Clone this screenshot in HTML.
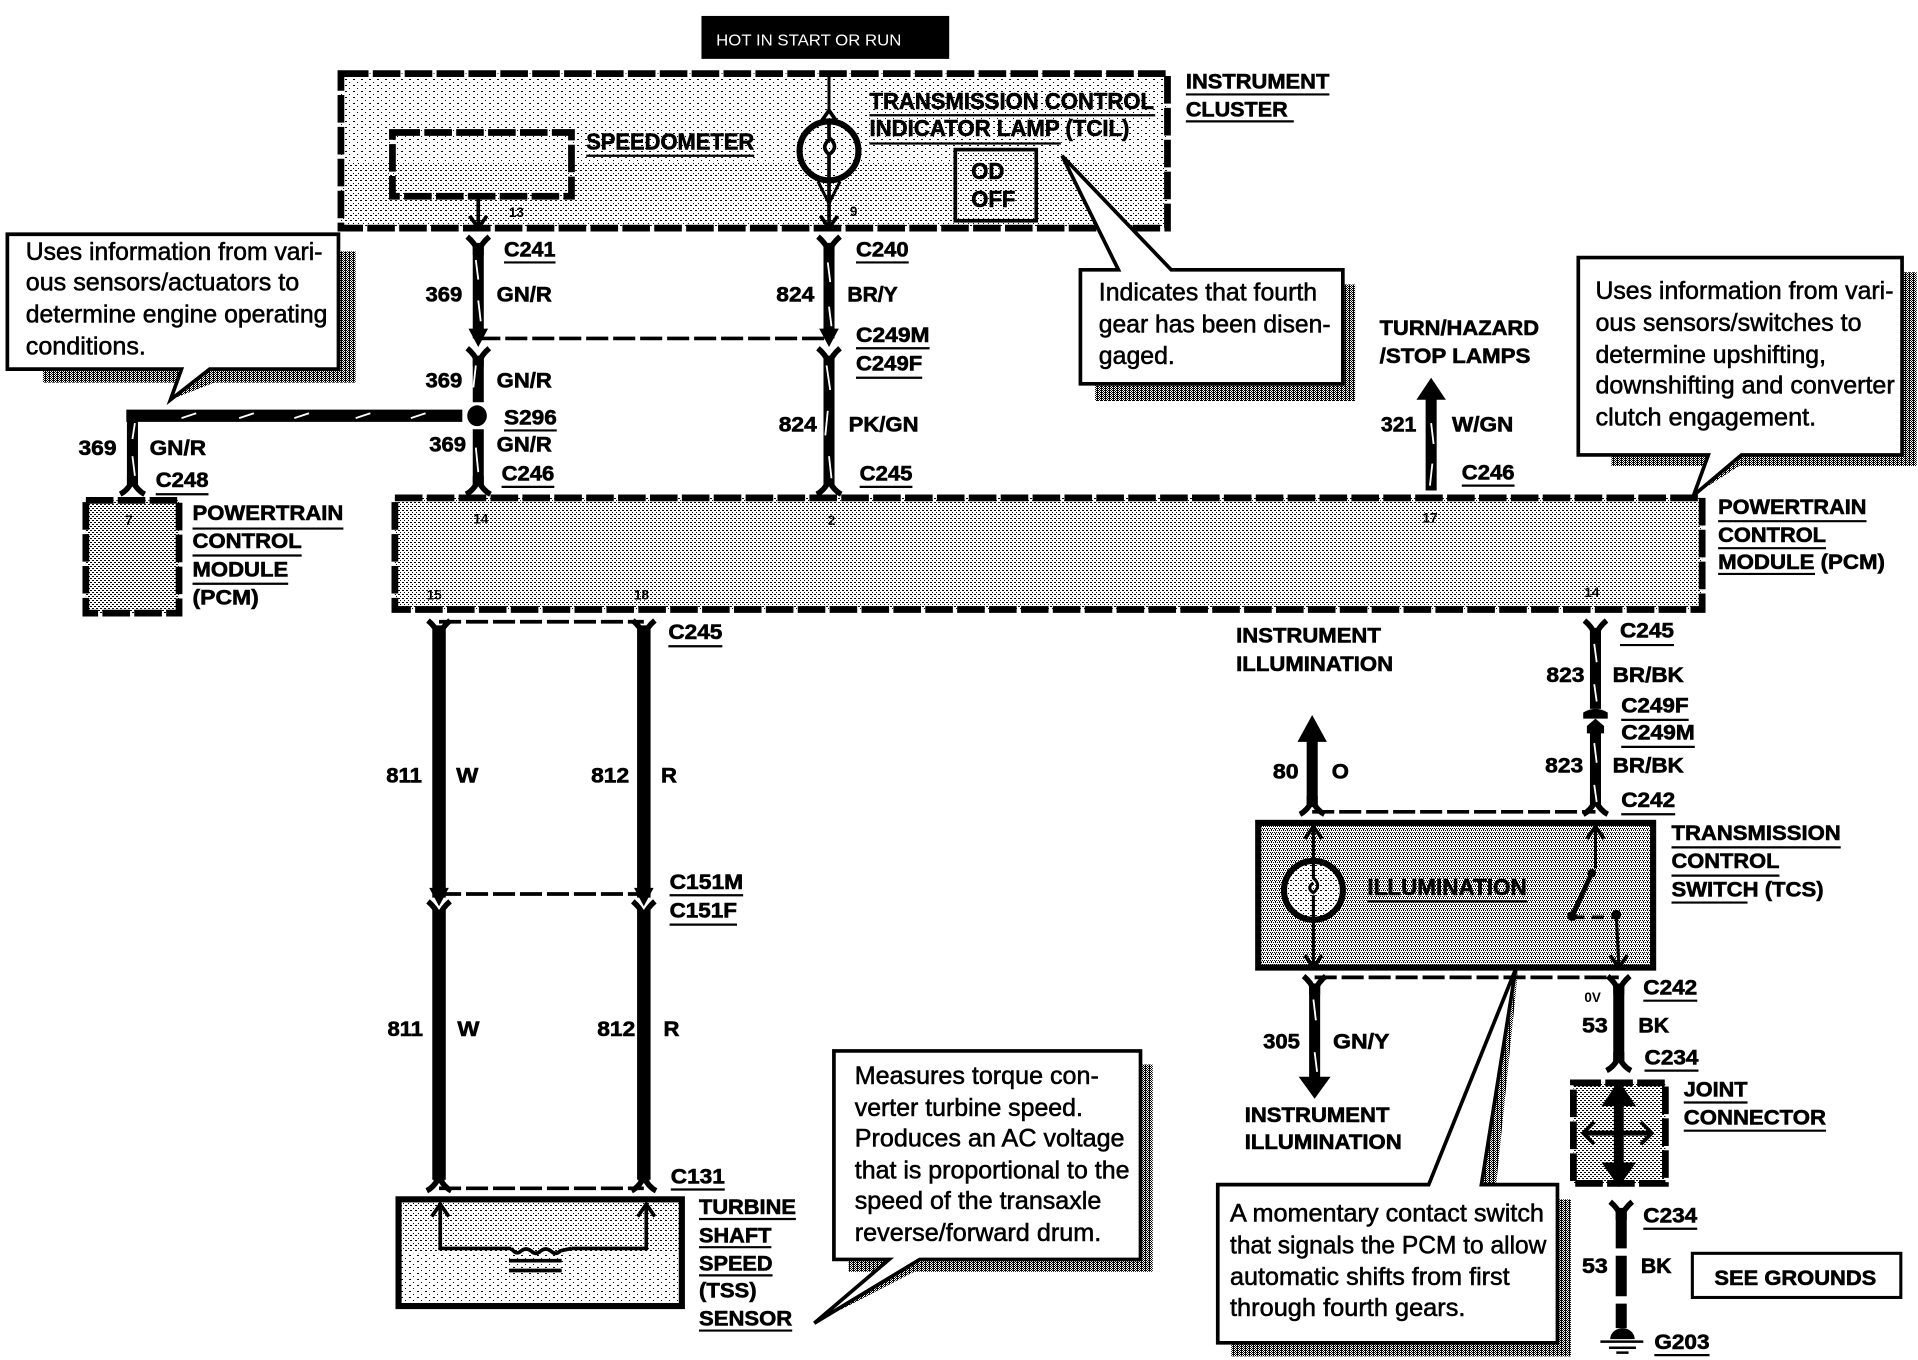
<!DOCTYPE html>
<html><head><meta charset="utf-8"><title>Wiring diagram</title>
<style>
html,body{margin:0;padding:0;background:#fff}
svg{display:block}
text{font-family:"Liberation Sans",sans-serif;fill:#000}
.b{font-weight:bold;font-size:17.5px;stroke:#000;stroke-width:.5px}
.l{font-weight:bold;font-size:19px;stroke:#000;stroke-width:.5px}
.n{font-size:20px;stroke:#000;stroke-width:.45px}
.s{font-weight:bold;font-size:11px}
.u{stroke:#000;stroke-width:1.8;fill:none}
.w{stroke:#000;stroke-width:9;fill:none}
.t{stroke:#fff;stroke-width:1.5;fill:none}
.th{stroke:#000;stroke-width:3;fill:none}
.d{stroke:#000;stroke-width:3;fill:none;stroke-dasharray:18 4}
.box{stroke:#000;stroke-width:5.5;stroke-dasharray:22.5 3.5;fill:none}
.sw{fill:url(#pS)}
.c{fill:#fff;stroke:#000;stroke-width:3}
</style></head><body>
<svg xmlns="http://www.w3.org/2000/svg" width="1918" height="1360" viewBox="0 0 1564 1109" preserveAspectRatio="none">
<defs>
<pattern id="pL" width="8" height="6" patternUnits="userSpaceOnUse" patternTransform="scale(.81543)"><rect width="8" height="6" fill="#fff"/><path shape-rendering="crispEdges" d="M1,1h2v1h-2zM5,4h1v1h-1z"/></pattern>
<pattern id="pM" width="5" height="5" patternUnits="userSpaceOnUse" patternTransform="scale(.81543)"><rect width="5" height="5" fill="#fff"/><path shape-rendering="crispEdges" d="M0,0h2v1h-2zM3,3h1v1h-1z"/></pattern>
<pattern id="pP" width="4" height="4" patternUnits="userSpaceOnUse" patternTransform="scale(.81543)"><rect width="4" height="4" fill="#fff"/><path shape-rendering="crispEdges" d="M0,0h1v1h-1zM2,2h2v1h-2z"/></pattern>
<pattern id="pQ" width="4" height="4" patternUnits="userSpaceOnUse" patternTransform="scale(.81543)"><rect width="4" height="4" fill="#fff"/><path shape-rendering="crispEdges" d="M0,0h2v1h-2zM2,2h2v1h-2z"/></pattern>
<pattern id="pD" width="4" height="4" patternUnits="userSpaceOnUse" patternTransform="scale(.81543)"><rect width="4" height="4" fill="#fff"/><path shape-rendering="crispEdges" d="M0,0h1v1h-1zM2,0h1v1h-1zM1,2h1v1h-1zM3,2h1v1h-1zM3,1h1v1h-1z"/></pattern>
<pattern id="pS" width="4" height="4" patternUnits="userSpaceOnUse" patternTransform="scale(.81543)"><rect width="4" height="4" fill="#fff"/><path shape-rendering="crispEdges" d="M0,0h3v1h-3zM1,1h1v1h-1zM3,1h1v1h-1zM0,2h3v1h-3zM1,3h1v1h-1zM3,3h1v1h-1z"/></pattern>
<g id="y"><path d="M-9,-8 Q-3,-3 0,4 Q3,-3 9,-8" fill="none" stroke="#000" stroke-width="4.5"/><rect x="-4.5" y="-1" width="9" height="8" fill="#000"/></g>
<g id="yi"><path d="M-10,9 Q-4,6 0,-2 Q4,6 10,9" fill="none" stroke="#000" stroke-width="4.5"/><rect x="-4.5" y="-6" width="9" height="8" fill="#000"/></g>
<g id="ar"><path d="M-8,-9 L0,6 L8,-9 Z" fill="#000"/></g>
<g id="au"><path d="M-7,7 L0,-3 L7,7" fill="none" stroke="#000" stroke-width="3"/></g>
<g id="ad"><path d="M-7,-7 L0,3 L7,-7" fill="none" stroke="#000" stroke-width="3"/></g>
</defs>
<rect width="1564" height="1109" fill="#fff"/>

<!-- hot bar -->
<rect x="572" y="13" width="202" height="35" fill="#000"/>
<text x="584" y="37" font-size="13" style="fill:#fff" textLength="151" lengthAdjust="spacingAndGlyphs">HOT IN START OR RUN</text>

<!-- instrument cluster -->
<rect x="278" y="60" width="674" height="72" fill="url(#pL)"/>
<rect x="278" y="132" width="674" height="54" fill="url(#pM)"/>
<rect x="278" y="60" width="674" height="126" class="box"/>
<rect x="320" y="108" width="146" height="52" class="box"/>
<path class="th" d="M390,160V187"/><use href="#ad" x="390" y="183"/>
<path d="M676,60V92" stroke="#000" stroke-width="2.5"/><use href="#au" x="676" y="93"/>
<circle cx="676" cy="123" r="24" fill="url(#pL)" stroke="#000" stroke-width="5"/>
<path d="M676,100V112 Q685,120 676,126 Q669,120 676,114 M676,126V147" stroke="#000" stroke-width="3" fill="none"/>
<path d="M676,147V187" stroke="#000" stroke-width="3"/><use href="#ad" x="676" y="183"/>
<path d="M667,148L676,166L685,148" fill="none" stroke="#000" stroke-width="2.5"/>
<rect x="779" y="122" width="66" height="58" fill="url(#pM)" stroke="#000" stroke-width="3"/>
<text class="l" x="792" y="146" textLength="27" lengthAdjust="spacingAndGlyphs">OD</text>
<text class="l" x="792" y="169" textLength="36" lengthAdjust="spacingAndGlyphs">OFF</text>

<!-- callout shadows -->
<path class="sw" d="M277,205H290V312H35V298H277Z"/>
<path class="sw" d="M1095,232H1105V327H893V313H1095Z"/>
<path class="sw" d="M1550,222H1563V380H1314V371H1550Z"/>
<path class="sw" d="M930,868H940V1037H692V1027H930Z"/>
<path class="sw" d="M1270,978H1281V1106H1004V1095H1270Z"/>
<path class="sw" d="M171,302L139,326L200,302Z"/>
<path class="sw" d="M866,127L955,220H935Z"/>
<path class="sw" d="M1238,790L1220,966H1208Z"/>
<path class="sw" d="M664,1079L750,1027H765Z"/>
<path class="sw" d="M1381,404L1420,371H1432Z"/>

<!-- callouts -->
<path class="c" d="M6,191H276V301H171L139,326L148,301H6Z"/>
<path class="c" d="M881,220H912L866,127L955,220H1095V313H881Z"/>
<path class="c" d="M1287,210H1551V371H1420L1381,404L1393,371H1287Z"/>
<path class="c" d="M680,857H930V1027H750L664,1079L725,1027H680Z"/>
<path class="c" d="M993,966H1165L1236,790L1208,966H1270V1095H993Z"/>

<text class="n" x="21" y="212" textLength="242" lengthAdjust="spacingAndGlyphs">Uses information from vari-</text>
<text class="n" x="21" y="237" textLength="223" lengthAdjust="spacingAndGlyphs">ous sensors/actuators to</text>
<text class="n" x="21" y="263" textLength="246" lengthAdjust="spacingAndGlyphs">determine engine operating</text>
<text class="n" x="21" y="289" textLength="98" lengthAdjust="spacingAndGlyphs">conditions.</text>
<text class="n" x="896" y="245" textLength="178" lengthAdjust="spacingAndGlyphs">Indicates that fourth</text>
<text class="n" x="896" y="271" textLength="189" lengthAdjust="spacingAndGlyphs">gear has been disen-</text>
<text class="n" x="896" y="297" textLength="62" lengthAdjust="spacingAndGlyphs">gaged.</text>
<text class="n" x="1301" y="244" textLength="243" lengthAdjust="spacingAndGlyphs">Uses information from vari-</text>
<text class="n" x="1301" y="270" textLength="217" lengthAdjust="spacingAndGlyphs">ous sensors/switches to</text>
<text class="n" x="1301" y="296" textLength="188" lengthAdjust="spacingAndGlyphs">determine upshifting,</text>
<text class="n" x="1301" y="321" textLength="244" lengthAdjust="spacingAndGlyphs">downshifting and converter</text>
<text class="n" x="1301" y="347" textLength="180" lengthAdjust="spacingAndGlyphs">clutch engagement.</text>
<text class="n" x="697" y="884" textLength="199" lengthAdjust="spacingAndGlyphs">Measures torque con-</text>
<text class="n" x="697" y="910" textLength="186" lengthAdjust="spacingAndGlyphs">verter turbine speed.</text>
<text class="n" x="697" y="935" textLength="220" lengthAdjust="spacingAndGlyphs">Produces an AC voltage</text>
<text class="n" x="697" y="961" textLength="224" lengthAdjust="spacingAndGlyphs">that is proportional to the</text>
<text class="n" x="697" y="986" textLength="201" lengthAdjust="spacingAndGlyphs">speed of the transaxle</text>
<text class="n" x="697" y="1012" textLength="201" lengthAdjust="spacingAndGlyphs">reverse/forward drum.</text>
<text class="n" x="1003" y="996" textLength="256" lengthAdjust="spacingAndGlyphs">A momentary contact switch</text>
<text class="n" x="1003" y="1022" textLength="258" lengthAdjust="spacingAndGlyphs">that signals the PCM to allow</text>
<text class="n" x="1003" y="1048" textLength="228" lengthAdjust="spacingAndGlyphs">automatic shifts from first</text>
<text class="n" x="1003" y="1073" textLength="192" lengthAdjust="spacingAndGlyphs">through fourth gears.</text>

<!-- PCM modules -->
<rect x="322" y="406" width="1066" height="91" fill="url(#pP)"/>
<rect x="322" y="406" width="1066" height="91" class="box"/>
<rect x="70" y="408" width="76" height="92" fill="url(#pQ)"/>
<rect x="70" y="408" width="76" height="92" class="box"/>

<!-- upper wires -->
<path class="w" d="M390,198V276M390,290V328M390,350V396M676,198V276M676,290V396"/>
<path class="d" d="M390,276H676"/>
<use href="#y" x="390" y="201"/><use href="#y" x="676" y="201"/>
<use href="#ar" x="390" y="277"/><use href="#ar" x="676" y="277"/>
<use href="#y" x="390" y="292"/><use href="#y" x="676" y="292"/>
<use href="#yi" x="390" y="394"/><use href="#yi" x="676" y="394"/>
<ellipse cx="389" cy="339" rx="8" ry="8.5" fill="#000"/>
<path d="M103,339H377" stroke="#000" stroke-width="10" fill="none"/>
<path class="w" d="M108,335V396"/><use href="#yi" x="108" y="394"/>
<path class="t" d="M148,341L160,337M195,341L207,337M240,341L252,337M290,341L302,337M335,341L347,337M110,345L108,358M108,372L110,388"/>
<path class="t" d="M388,212L390,228M390,245L392,262M388,298L386,316M388,365L390,385M675,214L677,230M676,250L678,266M674,298L677,318M675,335L673,355M676,372L678,390"/>

<!-- turn/hazard arrow -->
<path class="w" d="M1167,322V400"/><path d="M1155,326L1167,308L1179,326Z" fill="#000"/>
<path class="t" d="M1167,345L1169,362M1168,378L1166,396"/>

<!-- wires 811 812 -->
<path d="M358,510V732M358,742V962M525,510V732M525,742V962" stroke="#000" stroke-width="11" fill="none"/>
<use href="#y" x="358" y="514"/><use href="#y" x="525" y="514"/>
<use href="#ar" x="358" y="733"/><use href="#ar" x="525" y="733"/>
<use href="#y" x="358" y="743"/><use href="#y" x="525" y="743"/>
<use href="#yi" x="358" y="962"/><use href="#yi" x="525" y="962"/>
<path class="d" d="M358,507H525M358,729H525M358,969H525"/>

<!-- TSS -->
<rect x="325" y="978" width="231" height="44" fill="url(#pM)"/>
<rect x="325" y="1022" width="231" height="43" fill="url(#pL)"/>
<rect x="325" y="978" width="231" height="87" fill="none" stroke="#000" stroke-width="5"/>
<path d="M359,981V1018H417 M466,1018H527V981" fill="none" stroke="#000" stroke-width="3"/>
<use href="#au" x="359" y="985"/><use href="#au" x="527" y="985"/>
<path d="M417,1018q4,6 8,2q4,-3 8,0q4,4 8,0q4,-3 8,0q4,4 8,0l9,-2" fill="none" stroke="#000" stroke-width="3"/>
<path d="M415,1028H458M415,1036H458" stroke="#000" stroke-width="3"/>

<!-- right upper wire -->
<path class="w" d="M1301,512V578M1301,595V655"/>
<use href="#y" x="1301" y="514"/><use href="#yi" x="1301" y="655"/>
<path d="M1291,581Q1301,575 1311,581V586H1291Z" fill="#000"/><path d="M1294,592L1301,586L1308,592V598H1294Z" fill="#000"/>
<path class="t" d="M1300,525L1302,540M1300,558L1302,572M1300,606L1302,622M1300,640L1302,654"/>
<path d="M1070,600V658" stroke="#000" stroke-width="9" fill="none"/>
<path d="M1058,605L1070,583L1082,605Z" fill="#000"/><use href="#yi" x="1070" y="655"/>
<path class="d" d="M1070,662H1301"/>

<!-- TCS -->
<rect x="1026" y="671" width="322" height="118" fill="url(#pD)" stroke="#000" stroke-width="5"/>
<path d="M1071,674V702M1071,750V787" stroke="#000" stroke-width="2.5"/>
<use href="#au" x="1071" y="677"/><use href="#ad" x="1071" y="786"/>
<circle cx="1071" cy="726" r="24" fill="url(#pM)" stroke="#000" stroke-width="5"/>
<path d="M1071,702V716Q1078,722 1071,728Q1065,724 1071,720M1071,730V750" fill="none" stroke="#000" stroke-width="2.5"/>
<path d="M1301,674V708" stroke="#000" stroke-width="2.5"/><use href="#au" x="1301" y="677"/>
<circle cx="1298" cy="712" r="3.5" fill="#000"/><circle cx="1282" cy="747" r="4" fill="#000"/><circle cx="1318" cy="746" r="4" fill="#000"/>
<path d="M1298,712L1282,747" stroke="#000" stroke-width="4"/>
<path d="M1282,748H1318" stroke="#000" stroke-width="3" stroke-dasharray="10 6"/>
<path d="M1318,746L1320,787" stroke="#000" stroke-width="2.5"/><use href="#ad" x="1320" y="786"/>

<!-- lower wires -->
<path class="d" d="M1072,797H1320"/>
<path class="w" d="M1072,802V882"/><use href="#y" x="1072" y="804"/>
<path d="M1059,878L1072,896L1085,878Z" fill="#000"/>
<path class="t" d="M1071,815L1073,832M1072,858L1074,874"/>
<path class="w" d="M1320,802V866"/><use href="#y" x="1320" y="804"/><use href="#yi" x="1320" y="864"/>

<!-- joint -->
<rect x="1283" y="883" width="75" height="82" fill="url(#pQ)"/>
<rect x="1283" y="883" width="75" height="82" class="box"/>
<path d="M1320,895V955" stroke="#000" stroke-width="8"/>
<path d="M1306,902L1320,881L1334,902Z" fill="#000"/><path d="M1306,948L1320,968L1334,948Z" fill="#000"/>
<path d="M1293,924H1345" stroke="#000" stroke-width="4"/>
<path d="M1300,915L1291,924L1300,933M1338,915L1347,924L1338,933" fill="none" stroke="#000" stroke-width="3"/>

<path class="w" d="M1322,985V1018M1322,1024V1057M1322,1063V1083"/><use href="#y" x="1322" y="988"/>
<path d="M1313,1092A10,9 0 0 1 1333,1092Z" fill="#000"/>
<path d="M1305,1094H1340M1312,1099H1334M1318,1103H1328" stroke="#000" stroke-width="2"/>
<rect x="1380" y="1022" width="170" height="36" fill="#fff" stroke="#000" stroke-width="2.5"/>

<!-- small pin numbers -->
<text class="s" x="415" y="177">13</text><text class="s" x="693" y="176">9</text>
<text class="s" x="102" y="428">7</text><text class="s" x="386" y="427">14</text>
<text class="s" x="675" y="428">2</text><text class="s" x="1160" y="426">17</text>
<text class="s" x="348" y="489">15</text><text class="s" x="517" y="489">18</text>
<text class="s" x="1292" y="487">14</text>
<text class="s" x="1292" y="817" font-size="12">0V</text>

<!-- bold labels -->
<g>
<text class="b" x="967" y="72" textLength="117" lengthAdjust="spacingAndGlyphs">INSTRUMENT</text>
<text class="b" x="967" y="95" textLength="83" lengthAdjust="spacingAndGlyphs">CLUSTER</text>
<text class="l" x="709" y="89" textLength="232" lengthAdjust="spacingAndGlyphs">TRANSMISSION CONTROL</text>
<text class="l" x="709" y="111" textLength="212" lengthAdjust="spacingAndGlyphs">INDICATOR LAMP (TCIL)</text>
<text class="l" x="478" y="122" textLength="137" lengthAdjust="spacingAndGlyphs">SPEEDOMETER</text>
<text class="b" x="411" y="209" textLength="42" lengthAdjust="spacingAndGlyphs">C241</text>
<text class="b" x="698" y="209" textLength="43" lengthAdjust="spacingAndGlyphs">C240</text>
<text class="b" x="347" y="246" textLength="30" lengthAdjust="spacingAndGlyphs">369</text>
<text class="b" x="405" y="246" textLength="45" lengthAdjust="spacingAndGlyphs">GN/R</text>
<text class="b" x="633" y="246" textLength="31" lengthAdjust="spacingAndGlyphs">824</text>
<text class="b" x="691" y="246" textLength="41" lengthAdjust="spacingAndGlyphs">BR/Y</text>
<text class="b" x="698" y="279" textLength="60" lengthAdjust="spacingAndGlyphs">C249M</text>
<text class="b" x="698" y="302" textLength="54" lengthAdjust="spacingAndGlyphs">C249F</text>
<text class="b" x="347" y="316" textLength="30" lengthAdjust="spacingAndGlyphs">369</text>
<text class="b" x="405" y="316" textLength="45" lengthAdjust="spacingAndGlyphs">GN/R</text>
<text class="b" x="635" y="352" textLength="31" lengthAdjust="spacingAndGlyphs">824</text>
<text class="b" x="692" y="352" textLength="57" lengthAdjust="spacingAndGlyphs">PK/GN</text>
<text class="b" x="411" y="346" textLength="43" lengthAdjust="spacingAndGlyphs">S296</text>
<text class="b" x="350" y="368" textLength="30" lengthAdjust="spacingAndGlyphs">369</text>
<text class="b" x="405" y="368" textLength="45" lengthAdjust="spacingAndGlyphs">GN/R</text>
<text class="b" x="409" y="392" textLength="43" lengthAdjust="spacingAndGlyphs">C246</text>
<text class="b" x="701" y="392" textLength="43" lengthAdjust="spacingAndGlyphs">C245</text>
<text class="b" x="64" y="371" textLength="31" lengthAdjust="spacingAndGlyphs">369</text>
<text class="b" x="122" y="371" textLength="46" lengthAdjust="spacingAndGlyphs">GN/R</text>
<text class="b" x="127" y="397" textLength="43" lengthAdjust="spacingAndGlyphs">C248</text>
<text class="b" x="157" y="424" textLength="123" lengthAdjust="spacingAndGlyphs">POWERTRAIN</text>
<text class="b" x="157" y="447" textLength="89" lengthAdjust="spacingAndGlyphs">CONTROL</text>
<text class="b" x="157" y="470" textLength="78" lengthAdjust="spacingAndGlyphs">MODULE</text>
<text class="b" x="157" y="493" textLength="54" lengthAdjust="spacingAndGlyphs">(PCM)</text>
<text class="b" x="1125" y="273" textLength="130" lengthAdjust="spacingAndGlyphs">TURN/HAZARD</text>
<text class="b" x="1125" y="296" textLength="123" lengthAdjust="spacingAndGlyphs">/STOP LAMPS</text>
<text class="b" x="1126" y="352" textLength="29" lengthAdjust="spacingAndGlyphs">321</text>
<text class="b" x="1184" y="352" textLength="50" lengthAdjust="spacingAndGlyphs">W/GN</text>
<text class="b" x="1192" y="391" textLength="43" lengthAdjust="spacingAndGlyphs">C246</text>
<text class="b" x="1401" y="419" textLength="121" lengthAdjust="spacingAndGlyphs">POWERTRAIN</text>
<text class="b" x="1401" y="442" textLength="88" lengthAdjust="spacingAndGlyphs">CONTROL</text>
<text class="b" x="1401" y="464" textLength="136" lengthAdjust="spacingAndGlyphs">MODULE (PCM)</text>
<text class="b" x="545" y="521" textLength="44" lengthAdjust="spacingAndGlyphs">C245</text>
<text class="b" x="1008" y="524" textLength="118" lengthAdjust="spacingAndGlyphs">INSTRUMENT</text>
<text class="b" x="1008" y="547" textLength="128" lengthAdjust="spacingAndGlyphs">ILLUMINATION</text>
<text class="b" x="1321" y="520" textLength="44" lengthAdjust="spacingAndGlyphs">C245</text>
<text class="b" x="1261" y="556" textLength="31" lengthAdjust="spacingAndGlyphs">823</text>
<text class="b" x="1315" y="556" textLength="58" lengthAdjust="spacingAndGlyphs">BR/BK</text>
<text class="b" x="1322" y="581" textLength="55" lengthAdjust="spacingAndGlyphs">C249F</text>
<text class="b" x="1322" y="603" textLength="60" lengthAdjust="spacingAndGlyphs">C249M</text>
<text class="b" x="1260" y="630" textLength="31" lengthAdjust="spacingAndGlyphs">823</text>
<text class="b" x="1315" y="630" textLength="58" lengthAdjust="spacingAndGlyphs">BR/BK</text>
<text class="b" x="1322" y="658" textLength="44" lengthAdjust="spacingAndGlyphs">C242</text>
<text class="b" x="1038" y="635" textLength="21" lengthAdjust="spacingAndGlyphs">80</text>
<text class="b" x="1086" y="635" textLength="14" lengthAdjust="spacingAndGlyphs">O</text>
<text class="b" x="315" y="638" textLength="29" lengthAdjust="spacingAndGlyphs">811</text>
<text class="b" x="372" y="638" textLength="18" lengthAdjust="spacingAndGlyphs">W</text>
<text class="b" x="482" y="638" textLength="31" lengthAdjust="spacingAndGlyphs">812</text>
<text class="b" x="539" y="638" textLength="13" lengthAdjust="spacingAndGlyphs">R</text>
<text class="b" x="546" y="725" textLength="60" lengthAdjust="spacingAndGlyphs">C151M</text>
<text class="b" x="546" y="748" textLength="55" lengthAdjust="spacingAndGlyphs">C151F</text>
<text class="b" x="316" y="845" textLength="29" lengthAdjust="spacingAndGlyphs">811</text>
<text class="b" x="373" y="845" textLength="18" lengthAdjust="spacingAndGlyphs">W</text>
<text class="b" x="487" y="845" textLength="31" lengthAdjust="spacingAndGlyphs">812</text>
<text class="b" x="541" y="845" textLength="13" lengthAdjust="spacingAndGlyphs">R</text>
<text class="b" x="547" y="965" textLength="44" lengthAdjust="spacingAndGlyphs">C131</text>
<text class="b" x="570" y="990" textLength="79" lengthAdjust="spacingAndGlyphs">TURBINE</text>
<text class="b" x="570" y="1013" textLength="59" lengthAdjust="spacingAndGlyphs">SHAFT</text>
<text class="b" x="570" y="1036" textLength="60" lengthAdjust="spacingAndGlyphs">SPEED</text>
<text class="b" x="570" y="1058" textLength="47" lengthAdjust="spacingAndGlyphs">(TSS)</text>
<text class="b" x="570" y="1081" textLength="76" lengthAdjust="spacingAndGlyphs">SENSOR</text>
<text class="b" x="1363" y="685" textLength="138" lengthAdjust="spacingAndGlyphs">TRANSMISSION</text>
<text class="b" x="1363" y="708" textLength="88" lengthAdjust="spacingAndGlyphs">CONTROL</text>
<text class="b" x="1363" y="731" textLength="124" lengthAdjust="spacingAndGlyphs">SWITCH (TCS)</text>
<text class="l" x="1115" y="730" textLength="130" lengthAdjust="spacingAndGlyphs">ILLUMINATION</text>
<text class="b" x="1340" y="811" textLength="44" lengthAdjust="spacingAndGlyphs">C242</text>
<text class="b" x="1290" y="842" textLength="21" lengthAdjust="spacingAndGlyphs">53</text>
<text class="b" x="1336" y="842" textLength="25" lengthAdjust="spacingAndGlyphs">BK</text>
<text class="b" x="1341" y="868" textLength="44" lengthAdjust="spacingAndGlyphs">C234</text>
<text class="b" x="1030" y="855" textLength="30" lengthAdjust="spacingAndGlyphs">305</text>
<text class="b" x="1087" y="855" textLength="46" lengthAdjust="spacingAndGlyphs">GN/Y</text>
<text class="b" x="1373" y="894" textLength="52" lengthAdjust="spacingAndGlyphs">JOINT</text>
<text class="b" x="1373" y="917" textLength="116" lengthAdjust="spacingAndGlyphs">CONNECTOR</text>
<text class="b" x="1015" y="915" textLength="118" lengthAdjust="spacingAndGlyphs">INSTRUMENT</text>
<text class="b" x="1015" y="937" textLength="128" lengthAdjust="spacingAndGlyphs">ILLUMINATION</text>
<text class="b" x="1340" y="997" textLength="44" lengthAdjust="spacingAndGlyphs">C234</text>
<text class="b" x="1290" y="1038" textLength="21" lengthAdjust="spacingAndGlyphs">53</text>
<text class="b" x="1338" y="1038" textLength="25" lengthAdjust="spacingAndGlyphs">BK</text>
<text class="b" x="1398" y="1048" textLength="132" lengthAdjust="spacingAndGlyphs">SEE GROUNDS</text>
<text class="b" x="1349" y="1100" textLength="45" lengthAdjust="spacingAndGlyphs">G203</text>
</g>

<!-- underlines -->
<path class="u" d="M967,77H1084M967,99H1055M709,94H942M709,117H865M478,127H615M411,214H453M698,214H741M698,284H758M698,308H752M411,351H454M409,397H452M701,397H744M127,403H170M157,431H280M157,453H246M157,476H235M1192,396H1235M1401,425H1522M1401,447H1489M1401,468H1480M545,527H589M1321,526H1365M1322,587H1377M1322,609H1382M1322,664H1366M546,730H606M546,754H601M547,970H591M570,994H649M570,1017H629M570,1040H630M570,1085H646M1363,691H1501M1363,714H1451M1363,736H1425M1115,735H1245M1340,816H1384M1341,873H1385M1373,899H1425M1373,922H1489M1340,1002H1384M1349,1105H1394"/>
</svg>
</body></html>
